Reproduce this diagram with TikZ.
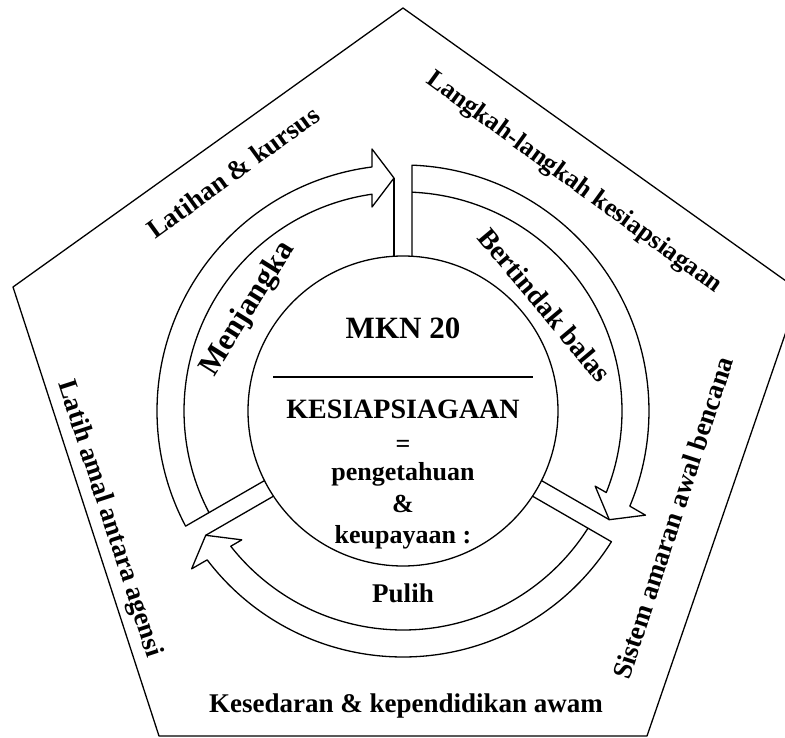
\documentclass[tikz,border=0pt]{standalone}
\usepackage{fontspec}
\setmainfont{Liberation Serif}
\begin{document}
\begin{tikzpicture}[x=1pt,y=-1pt, line join=round,
  ln/.style={draw=black, line width=1.3pt},
  lbl/.style={font=\bfseries\fontsize{27}{30}\selectfont, inner sep=0pt},
  ctr/.style={font=\bfseries\fontsize{26}{30}\selectfont, inner sep=0pt, anchor=base}]
\useasboundingbox (0,0) rectangle (785,738);
\fill[white] (0,0) rectangle (785,738);
% pentagon
\coordinate (pA) at (403,8);
\coordinate (pB) at (800,291);
\coordinate (pC) at (647,736);
\coordinate (pD) at (159,736);
\coordinate (pE) at (13,287);
\draw[ln] (pA) -- (pB) -- (pC) -- (pD) -- (pE) -- cycle;
% ring of arrows and centre circle
\begin{scope}[shift={(403,411)}, y=1pt]
  \draw[ln] (0,0) circle[radius=155];
  \foreach \r in {0,-120,-240}{
    \begin{scope}[rotate=\r]
      \draw[ln] (-9,154.74) -- (-9,233);
      \draw[ln] (9,154.74) -- (9,245.84)
        arc[start angle=87.9, end angle=-22.76, radius=246]
        -- (-23.25:263.83) -- (-27.79:233.17) -- (-21.36:206.34)
        -- (-21.86:219)
        arc[start angle=-21.86, end angle=87.64, radius=219];
    \end{scope}
  }
\end{scope}
% centre text
\coordinate (hl) at (273,377);
\coordinate (hr) at (533,377);
\draw[line width=1.3pt] (hl) -- (hr);
\node[ctr, font=\bfseries\fontsize{31}{34}\selectfont] (mkn) at (403,338) {MKN 20};
\node[ctr, font=\bfseries\fontsize{28}{30}\selectfont] (kes) at (403,418) {KESIAPSIAGAAN};
\node[ctr] (eq) at (403,452) {=};
\node[ctr] (pen) at (403,480) {pengetahuan};
\node[ctr] (amp) at (403,512) {\&};
\node[ctr] (keu) at (403,543) {keupayaan :};
\node[ctr, font=\bfseries\fontsize{27}{30}\selectfont] (pul) at (403,602) {Pulih};
% arrow labels
\node[lbl, font=\bfseries\fontsize{31}{33}\selectfont, rotate=58] (menj) at (248,309) {Menjangka};
\node[lbl, font=\bfseries\fontsize{28}{30}\selectfont, rotate=-50] (bert) at (545,305) {Bertindak balas};
% outer labels
\node[lbl, rotate=36] (t1) at (233,172) {Latihan \& kursus};
\node[lbl, font=\bfseries\fontsize{26}{30}\selectfont, rotate=-36] (t2) at (574,183) {Langkah-langkah kesiapsiagaan};
\node[lbl, rotate=-72] (t3) at (109,519) {Latih amal antara agensi};
\node[lbl, rotate=72] (t4) at (673,518) {Sistem amaran awal bencana};
\node[lbl] (t5) at (406,706) {Kesedaran \& kependidikan awam};
\end{tikzpicture}
\end{document}
